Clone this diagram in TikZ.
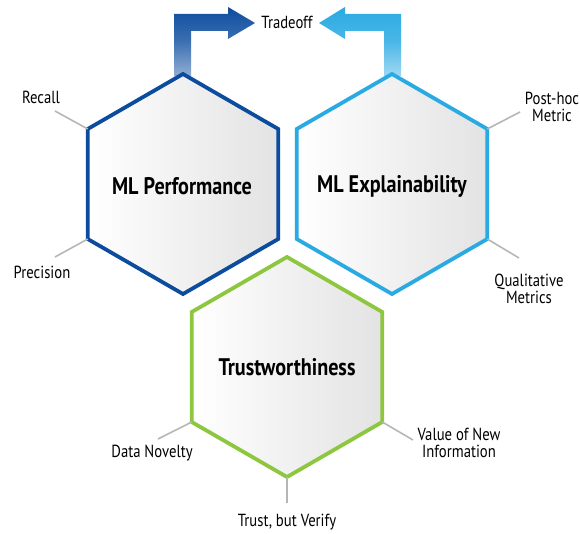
\documentclass[tikz,border=0pt]{standalone}
\usepackage{fontspec}
\setmainfont{PT Sans}[FakeStretch=0.84]
\usetikzlibrary{calc}
\definecolor{dblue}{RGB}{12,76,158}
\definecolor{lblue}{RGB}{42,170,226}
\definecolor{lgreen}{RGB}{141,198,63}
\definecolor{conn}{RGB}{182,182,182}
\tikzset{
  hexline/.style={line width=3.8pt, line join=miter},
  connline/.style={draw=conn, line width=1.6pt},
  lbl/.style={font=\fontsize{17.5}{17}\selectfont, align=center, inner sep=0pt},
  title/.style={font=\fontsize{24}{26}\selectfont\bfseries, inner sep=0pt},
}
\newcommand\hexcoords[3]{%
  \coordinate (#1-t) at (#2,#3-110);
  \coordinate (#1-ur) at (#2+95.26,#3-55);
  \coordinate (#1-lr) at (#2+95.26,#3+55);
  \coordinate (#1-b) at (#2,#3+110);
  \coordinate (#1-ll) at (#2-95.26,#3+55);
  \coordinate (#1-ul) at (#2-95.26,#3-55);
  \coordinate (#1-c) at (#2,#3);
}
\newcommand\hexpath[1]{(#1-t) -- (#1-ur) -- (#1-lr) -- (#1-b) -- (#1-ll) -- (#1-ul) -- cycle}
\newcommand\hexshadow[1]{%
  \foreach \d/\o in {9/0.03,7/0.04,5/0.05,3/0.06}{
    \fill[black, opacity=\o, shift={(\d,\d)}] \hexpath{#1};
  }
}
\begin{document}
\begin{tikzpicture}[x=1pt,y=-1pt]
\useasboundingbox (0,0) rectangle (580,534);
\hexcoords{P}{183}{184}
\hexcoords{E}{392}{184}
\hexcoords{T}{287}{367}
% arrows
\shade[top color=dblue, bottom color=dblue!45, middle color=dblue!80]
  (174,76) -- (174,14) -- (228,14) -- (228,7) -- (255,23) -- (228,39) -- (228,31) -- (191,31) -- (191,76) -- cycle;
\shade[top color=lblue, bottom color=lblue!45, middle color=lblue!85]
  (401,76) -- (401,14) -- (345,14) -- (345,7) -- (319,23) -- (345,39) -- (345,31) -- (384,31) -- (384,76) -- cycle;
\node[lbl] (trade) at (287,22) {Tradeoff};
% shadows
\hexshadow{P}
\hexshadow{E}
\hexshadow{T}
% hexagons
\shade[left color=white, right color=black!11] \hexpath{P};
\shade[left color=white, right color=black!11] \hexpath{E};
\shade[left color=white, right color=black!11] \hexpath{T};
\draw[hexline, draw=dblue] \hexpath{P};
\draw[hexline, draw=lblue] \hexpath{E};
\draw[hexline, draw=lgreen] \hexpath{T};
\node[title] (perf) at (182,186) {ML Performance};
\node[title] (expl) at (392,186) {ML Explainability};
\node[title] (trust) at (287,367) {Trustworthiness};
% connectors
\coordinate (recallend) at (55,111);
\coordinate (precend) at (55,257);
\coordinate (posthocend) at (520,112);
\coordinate (qualend) at (519,258);
\coordinate (novend) at (158,439);
\coordinate (valend) at (413,440);
\coordinate (verend) at (287,503);
\draw[connline] (P-ul) -- (recallend);
\draw[connline] (P-ll) -- (precend);
\draw[connline] (E-ur) -- (posthocend);
\draw[connline] (E-lr) -- (qualend);
\draw[connline] (T-ll) -- (novend);
\draw[connline] (T-lr) -- (valend);
\draw[connline] (T-b) -- (verend);
\node[lbl] (recall) at (41,97) {Recall};
\node[lbl] (prec) at (42,272) {Precision};
\node[lbl] (posthoc) at (552,107) {Post-hoc\\Metric};
\node[lbl] (qual) at (529,289) {Qualitative\\Metrics};
\node[lbl] (nov) at (152,453) {Data Novelty};
\node[lbl] (val) at (459,443) {Value of New\\Information};
\node[lbl] (ver) at (287,522) {Trust, but Verify};
\end{tikzpicture}
\end{document}
